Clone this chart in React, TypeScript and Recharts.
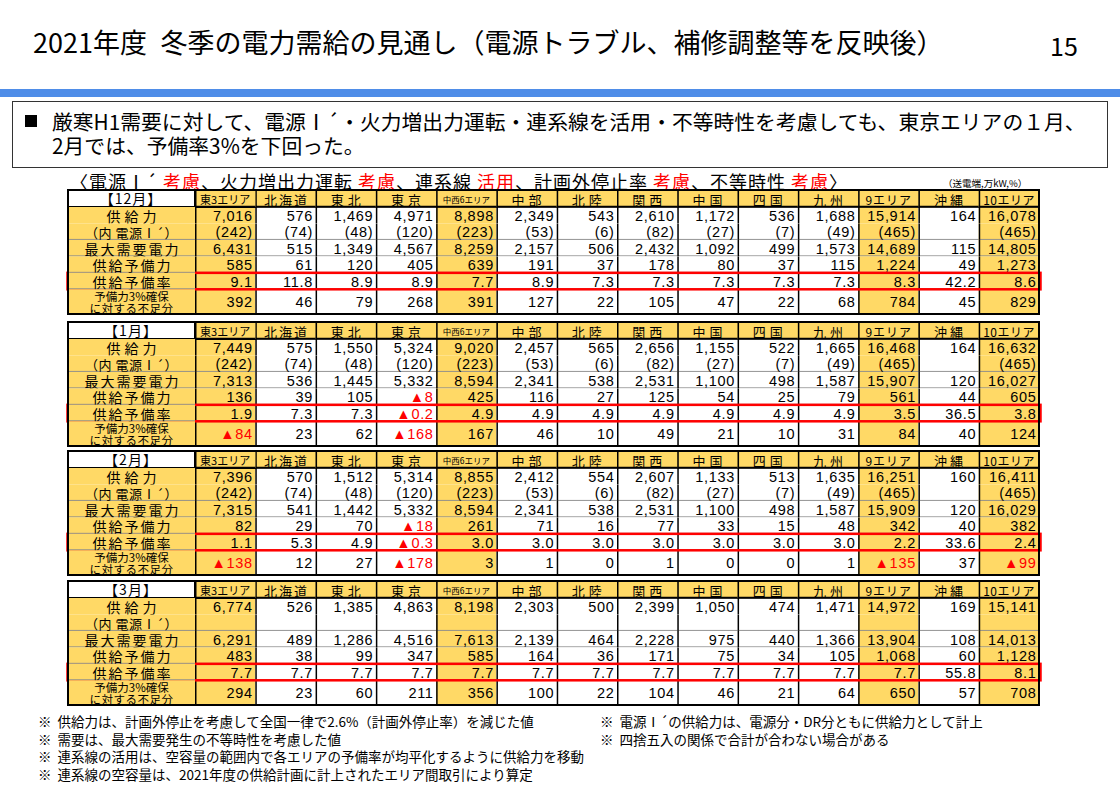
import React from 'react';
import { ScatterChart, Scatter, XAxis, YAxis } from 'recharts';

// ---------- categories ----------
const AREAS = ['東3エリア', '北海道', '東北', '東京', '中西6エリア', '中部', '北陸', '関西', '中国', '四国', '九州', '9エリア', '沖縄', '10エリア'];
const SUM_AREAS = ['東3エリア', '中西6エリア', '9エリア', '10エリア'];
const ROW_KEYS = ['supply', 'sourceI', 'demand', 'reserve', 'rate', 'shortfall'];
const ROW_LABELS = ['供給力', '（内 電源Ⅰ´）', '最大需要電力', '供給予備力', '供給予備率', '予備力3%確保\nに対する不足分'];
const MONTH_LABELS = ['【12月】', '【1月】', '【2月】', '【3月】'];

// ---------- December ----------
const decSupply = [7016, 576, 1469, 4971, 8898, 2349, 543, 2610, 1172, 536, 1688, 15914, 164, 16078];
const decSourceI = [242, 74, 48, 120, 223, 53, 6, 82, 27, 7, 49, 465, null, 465];
const decDemand = [6431, 515, 1349, 4567, 8259, 2157, 506, 2432, 1092, 499, 1573, 14689, 115, 14805];
const decReserve = [585, 61, 120, 405, 639, 191, 37, 178, 80, 37, 115, 1224, 49, 1273];
const decRate = [9.1, 11.8, 8.9, 8.9, 7.7, 8.9, 7.3, 7.3, 7.3, 7.3, 7.3, 8.3, 42.2, 8.6];
const decShortfall = [392, 46, 79, 268, 391, 127, 22, 105, 47, 22, 68, 784, 45, 829];

// ---------- January ----------
const janSupply = [7449, 575, 1550, 5324, 9020, 2457, 565, 2656, 1155, 522, 1665, 16468, 164, 16632];
const janSourceI = [242, 74, 48, 120, 223, 53, 6, 82, 27, 7, 49, 465, null, 465];
const janDemand = [7313, 536, 1445, 5332, 8594, 2341, 538, 2531, 1100, 498, 1587, 15907, 120, 16027];
const janReserve = [136, 39, 105, -8, 425, 116, 27, 125, 54, 25, 79, 561, 44, 605];
const janRate = [1.9, 7.3, 7.3, -0.2, 4.9, 4.9, 4.9, 4.9, 4.9, 4.9, 4.9, 3.5, 36.5, 3.8];
const janShortfall = [-84, 23, 62, -168, 167, 46, 10, 49, 21, 10, 31, 84, 40, 124];

// ---------- February ----------
const febSupply = [7396, 570, 1512, 5314, 8855, 2412, 554, 2607, 1133, 513, 1635, 16251, 160, 16411];
const febSourceI = [242, 74, 48, 120, 223, 53, 6, 82, 27, 7, 49, 465, null, 465];
const febDemand = [7315, 541, 1442, 5332, 8594, 2341, 538, 2531, 1100, 498, 1587, 15909, 120, 16029];
const febReserve = [82, 29, 70, -18, 261, 71, 16, 77, 33, 15, 48, 342, 40, 382];
const febRate = [1.1, 5.3, 4.9, -0.3, 3.0, 3.0, 3.0, 3.0, 3.0, 3.0, 3.0, 2.2, 33.6, 2.4];
const febShortfall = [-138, 12, 27, -178, 3, 1, 0, 1, 0, 0, 1, -135, 37, -99];

// ---------- March ----------
const marSupply = [6774, 526, 1385, 4863, 8198, 2303, 500, 2399, 1050, 474, 1471, 14972, 169, 15141];
const marSourceI = [null, null, null, null, null, null, null, null, null, null, null, null, null, null];
const marDemand = [6291, 489, 1286, 4516, 7613, 2139, 464, 2228, 975, 440, 1366, 13904, 108, 14013];
const marReserve = [483, 38, 99, 347, 585, 164, 36, 171, 75, 34, 105, 1068, 60, 1128];
const marRate = [7.7, 7.7, 7.7, 7.7, 7.7, 7.7, 7.7, 7.7, 7.7, 7.7, 7.7, 7.7, 55.8, 8.1];
const marShortfall = [294, 23, 60, 211, 356, 100, 22, 104, 46, 21, 64, 650, 57, 708];

// ---------- text ----------
const TITLE = '2021年度\u2002冬季の電力需給の見通し（電源トラブル、補修調整等を反映後）';
const PAGE_NO = '15';
const BULLET_L1 = '厳寒H1需要に対して、電源Ⅰ´・火力増出力運転・連系線を活用・不等時性を考慮しても、東京エリアの１月、';
const BULLET_L2 = '2月では、予備率3%を下回った。';
const NOTES_LEFT = [
  '※  供給力は、計画外停止を考慮して全国一律で2.6%（計画外停止率）を減じた値',
  '※  需要は、最大需要発生の不等時性を考慮した値',
  '※  連系線の活用は、空容量の範囲内で各エリアの予備率が均平化するように供給力を移動',
  '※  連系線の空容量は、2021年度の供給計画に計上されたエリア間取引により算定',
];
const NOTES_RIGHT = ['※  電源Ⅰ´の供給力は、電源分・DR分ともに供給力として計上', '※  四捨五入の関係で合計が合わない場合がある'];

// ---------- layout / style ----------
const JP = "'Noto Sans CJK JP', 'Noto Sans', sans-serif";
const NUM = "'Liberation Sans', 'DejaVu Sans', Arial, sans-serif";
const YELLOW = '#FFD966';
const RED = '#FF0000';
const PAD = 3;
const LABEL_W = 127;
const PLOT_W = 844;
const COL_W = PLOT_W / AREAS.length;
const HEADER_H = 17;
const BODY_H = 107;
// each table row spans a number of equal sub-bands of the category axis
const ROW_SPANS: Record<string, number> = { supply: 2, sourceI: 2, demand: 2, reserve: 2, rate: 2, shortfall: 3 };
const SUB_ROWS: string[] = [];
ROW_KEYS.forEach((k) => {
  SUB_ROWS.push(k);
  for (let i = 1; i < ROW_SPANS[k]; i++) SUB_ROWS.push(`${k}#${i}`);
});
const BAND = BODY_H / SUB_ROWS.length;
const TABLE_LEFT = 68;
const BLOCK_TOPS = [190, 322, 451, 581];
const CHART_W = PAD + LABEL_W + PLOT_W + PAD;
const CHART_H = PAD + HEADER_H + BODY_H + PAD;

const HEADER_FONT: Record<string, number> = {
  '東3エリア': 11, '北海道': 13, '東北': 13, '東京': 13, '中西6エリア': 8.5, '中部': 13, '北陸': 13,
  '関西': 13, '中国': 13, '四国': 13, '九州': 13, '9エリア': 12, '沖縄': 13, '10エリア': 12,
};
const HEADER_SPACING: Record<string, number> = {
  '東3エリア': 0, '北海道': 2, '東北': 4, '東京': 4, '中西6エリア': 0, '中部': 4, '北陸': 4,
  '関西': 4, '中国': 4, '四国': 4, '九州': 4, '9エリア': 1, '沖縄': 3, '10エリア': 0.5,
};

const fmtInt = (v: number) => Math.abs(v).toLocaleString('en-US');
function formatCell(row: string, v: number | null): { text: string; neg: boolean } {
  if (v === null || v === undefined) return { text: '', neg: false };
  if (row === 'sourceI') return { text: `(${fmtInt(v)})`, neg: false };
  if (row === 'rate') return { text: (v < 0 ? '▲' : '') + Math.abs(v).toFixed(1), neg: v < 0 };
  return { text: (v < 0 ? '▲' : '') + fmtInt(v), neg: v < 0 };
}

const EmptyShape = () => <g />;

const CellShape = (props: any) => {
  const { cx, cy, payload } = props;
  if (cx == null || cy == null) return null;
  const span = ROW_SPANS[payload.row] || 1;
  const x = cx - COL_W / 2;
  const y = cy - BAND / 2;
  const h = BAND * span;
  const isSum = SUM_AREAS.includes(payload.area);
  const { text, neg } = formatCell(payload.row, payload.value);
  return (
    <g>
      <rect x={x} y={y} width={COL_W} height={h} fill={isSum ? YELLOW : '#fff'} />
      {payload.row !== 'supply' && payload.row !== 'shortfall' && (
        <line x1={x} x2={x + COL_W} y1={y + h - 0.5} y2={y + h - 0.5} stroke="#8c8c8c" strokeWidth={1} />
      )}
      <line x1={x + 0.75} x2={x + 0.75} y1={y} y2={y + h} stroke="#000" strokeWidth={1.5} />
      {text && (
        <text
          x={x + COL_W - 2.5}
          y={y + h / 2 + 0.5}
          textAnchor="end"
          dominantBaseline="central"
          fontFamily={NUM}
          fontSize={14.5}
          letterSpacing={0.7}
          fill={neg ? RED : '#000'}
        >
          {text}
        </text>
      )}
    </g>
  );
};

const RateBox = (props: any) => {
  const { cx, cy, payload } = props;
  if (cx == null || cy == null) return null;
  const x = cx - COL_W / 2 - LABEL_W;
  const y = cy - BAND / 2;
  return (
    <rect x={x - 0.5} y={y} width={LABEL_W + PLOT_W + 2} height={BAND * (ROW_SPANS[payload.row] || 1)} fill="none" stroke={RED} strokeWidth={2.5} />
  );
};

const HeaderTick = (props: any) => {
  const { x, payload } = props;
  const name = payload.value as string;
  const left = x - COL_W / 2;
  return (
    <g>
      <rect x={left} y={PAD} width={COL_W} height={HEADER_H} fill={YELLOW} />
      <line x1={left + 0.75} x2={left + 0.75} y1={PAD} y2={PAD + HEADER_H} stroke="#000" strokeWidth={1.5} />
      <line x1={left} x2={left + COL_W} y1={PAD + HEADER_H - 0.5} y2={PAD + HEADER_H - 0.5} stroke="#000" strokeWidth={1.5} />
      <text
        x={x + (HEADER_SPACING[name] || 0) / 2}
        y={PAD + HEADER_H / 2 + 0.5}
        textAnchor="middle"
        dominantBaseline="central"
        fontFamily={JP}
        fontSize={HEADER_FONT[name] || 12}
        letterSpacing={HEADER_SPACING[name] || 0}
        fill="#000"
      >
        {name}
      </text>
    </g>
  );
};

const LabelTick = (props: any) => {
  const { y, payload } = props;
  const key = payload.value as string;
  const idx = ROW_KEYS.indexOf(key);
  if (idx < 0) return <g />;
  const label = ROW_LABELS[idx] || '';
  const span = ROW_SPANS[key] || 1;
  const top = y - BAND / 2;
  const h = BAND * span;
  const mid = top + h / 2;
  const cxl = PAD + LABEL_W / 2;
  const lines = label.split('\n');
  return (
    <g>
      <rect x={PAD} y={top} width={LABEL_W} height={h} fill={YELLOW} />
      {key !== 'supply' && key !== 'shortfall' && (
        <line x1={PAD} x2={PAD + LABEL_W} y1={top + h - 0.5} y2={top + h - 0.5} stroke="#8c8c8c" strokeWidth={1} />
      )}
      {lines.length === 1 ? (
        <text
          x={cxl + (key === 'supply' ? 2 : key === 'sourceI' ? 0 : 1)}
          y={mid + 0.5}
          textAnchor="middle"
          dominantBaseline="central"
          fontFamily={JP}
          fontSize={key === 'sourceI' ? 13 : 14}
          letterSpacing={key === 'supply' ? 4 : key === 'sourceI' ? 0.5 : 2}
          fill="#000"
        >
          {label}
        </text>
      ) : (
        <text textAnchor="middle" fontFamily={JP} fontSize={11.5} fill="#000">
          <tspan x={cxl} y={mid - 5.5} dominantBaseline="central">{lines[0]}</tspan>
          <tspan x={cxl} y={mid + 6.5} dominantBaseline="central" letterSpacing={0.5}>{lines[1]}</tspan>
        </text>
      )}
    </g>
  );
};

function MonthTable({ month, rows, top }: { month: string; rows: (number | null)[][]; top: number }) {
  const skeleton = SUB_ROWS.map((k) => ({ area: AREAS[0], row: k, value: null }));
  const data: any[] = [];
  ROW_KEYS.forEach((rk, r) => {
    AREAS.forEach((a, c) => {
      data.push({ area: a, row: rk, value: rows[r][c] });
    });
  });
  const rateMark = [{ area: AREAS[0], row: 'rate', value: null }];
  return (
    <div style={{ position: 'absolute', left: TABLE_LEFT - PAD, top: top - PAD, width: CHART_W, height: CHART_H }}>
      <ScatterChart width={CHART_W} height={CHART_H} margin={{ top: PAD, right: PAD, bottom: PAD, left: PAD }}>
        <XAxis
          type="category"
          dataKey="area"
          orientation="top"
          height={HEADER_H}
          scale="band"
          allowDuplicatedCategory={false}
          axisLine={false}
          tickLine={false}
          interval={0}
          tick={<HeaderTick />}
        />
        <YAxis
          type="category"
          dataKey="row"
          width={LABEL_W}
          scale="band"
          reversed
          allowDuplicatedCategory={false}
          axisLine={false}
          tickLine={false}
          interval={0}
          tick={<LabelTick />}
        />
        <Scatter data={skeleton} shape={<EmptyShape />} isAnimationActive={false} />
        <Scatter data={data} shape={<CellShape />} isAnimationActive={false} />
        <Scatter data={rateMark} shape={<RateBox />} isAnimationActive={false} />
      </ScatterChart>
      <div
        style={{
          position: 'absolute', left: PAD, top: PAD, width: LABEL_W, height: HEADER_H, background: '#fff',
          borderRight: '1.5px solid #000', borderBottom: '1.5px solid #000', boxSizing: 'border-box',
          fontFamily: JP, fontSize: 14, lineHeight: `${HEADER_H - 1}px`, textAlign: 'center', letterSpacing: 1, color: '#000',
        }}
      >
        {month}
      </div>
      <div
        style={{
          position: 'absolute', left: PAD - 1, top: PAD - 1, width: LABEL_W + PLOT_W + 2, height: HEADER_H + BODY_H + 2,
          border: '2px solid #000', boxSizing: 'border-box', pointerEvents: 'none',
        }}
      />
    </div>
  );
}

export default function App() {
  const months = [
    [decSupply, decSourceI, decDemand, decReserve, decRate, decShortfall],
    [janSupply, janSourceI, janDemand, janReserve, janRate, janShortfall],
    [febSupply, febSourceI, febDemand, febReserve, febRate, febShortfall],
    [marSupply, marSourceI, marDemand, marReserve, marRate, marShortfall],
  ];
  const red = (t: string) => <span style={{ color: RED }}>{t}</span>;
  return (
    <div style={{ position: 'absolute', left: 0, top: 0, width: 1120, height: 792, background: '#fff', overflow: 'hidden', fontFamily: JP, color: '#000' }}>
      <div style={{ position: 'absolute', left: 33, top: 28, fontSize: 27, lineHeight: '27px', whiteSpace: 'nowrap' }}>{TITLE}</div>
      <div style={{ position: 'absolute', left: 1050, top: 33, fontSize: 25, lineHeight: '25px' }}>{PAGE_NO}</div>
      <div style={{ position: 'absolute', left: 0, top: 89, width: 1120, height: 8, background: '#4F8DE8' }} />
      <div style={{ position: 'absolute', left: 12, top: 101, width: 1096, height: 67, border: '1.5px solid #333', boxSizing: 'border-box' }} />
      <div style={{ position: 'absolute', left: 25, top: 115, width: 12, height: 12, background: '#000' }} />
      <div style={{ position: 'absolute', left: 52, top: 111, fontSize: 20.8, lineHeight: '20px', whiteSpace: 'nowrap' }}>{BULLET_L1}</div>
      <div style={{ position: 'absolute', left: 52, top: 135, fontSize: 20.8, lineHeight: '20px', whiteSpace: 'nowrap' }}>{BULLET_L2}</div>
      <div style={{ position: 'absolute', left: 70, top: 173, fontSize: 18, lineHeight: '16px', whiteSpace: 'nowrap', letterSpacing: 1 }}>
        〈電源Ⅰ´ {red('考慮')}、火力増出力運転 {red('考慮')}、連系線 {red('活用')}、計画外停止率 {red('考慮')}、不等時性 {red('考慮')}〉
      </div>
      <div style={{ position: 'absolute', left: 943, top: 178, fontSize: 9.5, lineHeight: '10px', whiteSpace: 'nowrap' }}>（送電端,万kW,%）</div>
      {months.map((rows, i) => (
        <MonthTable key={i} month={MONTH_LABELS[i]} rows={rows} top={BLOCK_TOPS[i]} />
      ))}
      {NOTES_LEFT.map((t, i) => (
        <div key={'l' + i} style={{ position: 'absolute', left: 38, top: 713 + i * 17.7, fontSize: 13.5, lineHeight: '16px', whiteSpace: 'pre' }}>{t}</div>
      ))}
      {NOTES_RIGHT.map((t, i) => (
        <div key={'r' + i} style={{ position: 'absolute', left: 600, top: 713 + i * 17.7, fontSize: 13.5, lineHeight: '16px', whiteSpace: 'pre' }}>{t}</div>
      ))}
    </div>
  );
}
